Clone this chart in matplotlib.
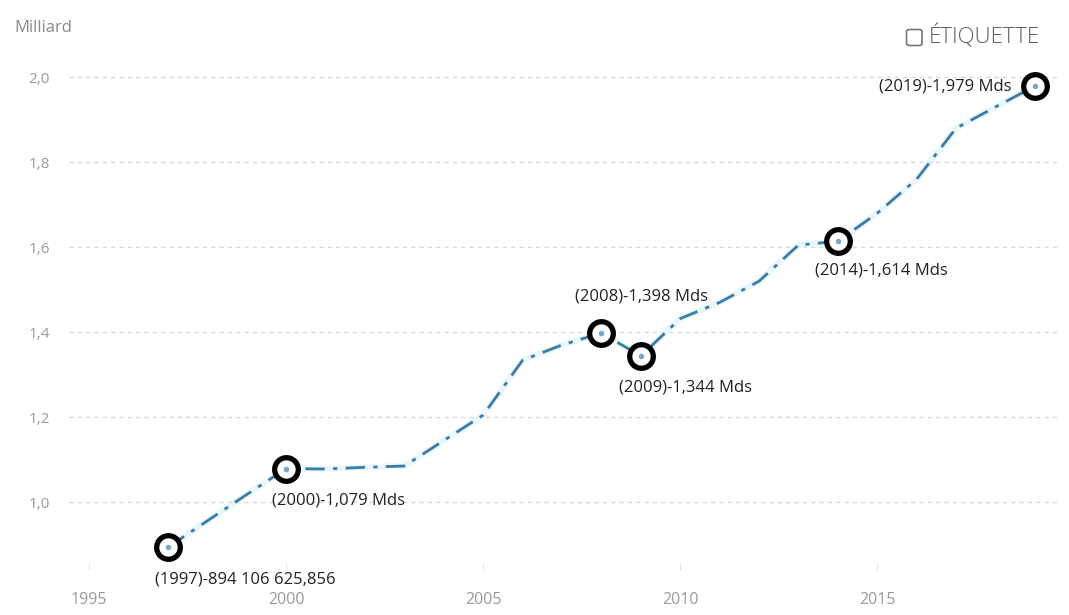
import numpy as np
import matplotlib.pyplot as plt
from matplotlib.patches import FancyBboxPatch

# yearly totals, in billions
years = [1997, 1998, 1999, 2000, 2001, 2002, 2003, 2004, 2005, 2006, 2007, 2008,
         2009, 2010, 2011, 2012, 2013, 2014, 2015, 2016, 2017, 2018, 2019]
values = [0.894, 0.956, 1.018, 1.079, 1.078, 1.082, 1.085, 1.145, 1.205, 1.334,
          1.370, 1.398, 1.344, 1.432, 1.470, 1.520, 1.605, 1.614, 1.680, 1.760,
          1.880, 1.930, 1.979]

# highlighted points and their labels
label_years = [1997, 2000, 2008, 2009, 2014, 2019]
label_texts = ["(1997)-894 106 625,856", "(2000)-1,079 Mds", "(2008)-1,398 Mds",
               "(2009)-1,344 Mds", "(2014)-1,614 Mds", "(2019)-1,979 Mds"]

y_ticks = [1.0, 1.2, 1.4, 1.6, 1.8, 2.0]
x_ticks = [1995, 2000, 2005, 2010, 2015]

plt.rcParams["font.family"] = ["Open Sans", "DejaVu Sans"]

fig = plt.figure(figsize=(10.69, 6.15), dpi=100)
ax = fig.add_axes([0.065, 0.073, 0.927, 0.829])

line_color = "#3f7aa4"

# soft halo under the line
ax.plot(years, values, color="#cdeefa", linewidth=4.5, alpha=0.45,
        solid_capstyle="round", zorder=2)
ax.plot(years, values, color=line_color, linewidth=2.0,
        dashes=(7, 3, 1.5, 3), zorder=3)

# ringed markers on the highlighted years
lx = label_years
ly = [values[years.index(y)] for y in label_years]
ax.plot(lx, ly, linestyle="none", marker="o", markersize=17,
        markerfacecolor="white", markeredgecolor="black",
        markeredgewidth=3.8, zorder=4)
ax.plot(lx, ly, linestyle="none", marker="o", markersize=3,
        color="#7fa8c4", zorder=5)

offsets = {
    1997: ((-9, -23), "left"),
    2000: ((-10, -23), "left"),
    2008: ((-19, 26), "left"),
    2009: ((-16, -23), "left"),
    2014: ((-16.5, -21), "left"),
    2019: ((-16.5, 0), "right"),
}
for yr, txt in zip(label_years, label_texts):
    (dx, dy), ha = offsets[yr]
    ax.annotate(txt, (yr, values[years.index(yr)]), xytext=(dx, dy),
                textcoords="offset points", ha=ha, va="center",
                fontsize=12, color="#222222", zorder=6)

ax.set_xlim(1994.5, 2019.65)
ax.set_ylim(0.84, 2.04)
ax.set_yticks(y_ticks)
ax.set_yticklabels([f"{v:.1f}".replace(".", ",") for v in y_ticks])
ax.set_xticks(x_ticks)
ax.set_xticklabels([str(x) for x in x_ticks])

ax.grid(axis="y", color="#d8d8d8", linestyle=(0, (3, 3)), linewidth=1)
ax.set_axisbelow(True)
for side in ["top", "right", "left", "bottom"]:
    ax.spines[side].set_visible(False)
ax.tick_params(axis="y", length=0, labelsize=11, labelcolor="#9a9a9a", pad=14)
ax.tick_params(axis="x", length=5, color="#e2e2e2", labelsize=11.5,
               labelcolor="#9a9a9a", pad=16, direction="in")

fig.text(0.013, 0.955, "Milliard", fontsize=12, color="#8a8a8a",
         ha="left", va="center")

# legend-like checkbox label at top right
fig.patches.append(FancyBboxPatch((0.848, 0.926), 0.0145, 0.026,
                                  boxstyle="round,pad=0,rounding_size=0.003",
                                  transform=fig.transFigure, fill=False,
                                  edgecolor="#777777", linewidth=1.2))
fig.text(0.869, 0.94, "ÉTIQUETTE", fontsize=16, color="#5e5e5e",
         ha="left", va="center", fontweight="light")

fig.savefig("out.png", dpi=100, facecolor="white")
